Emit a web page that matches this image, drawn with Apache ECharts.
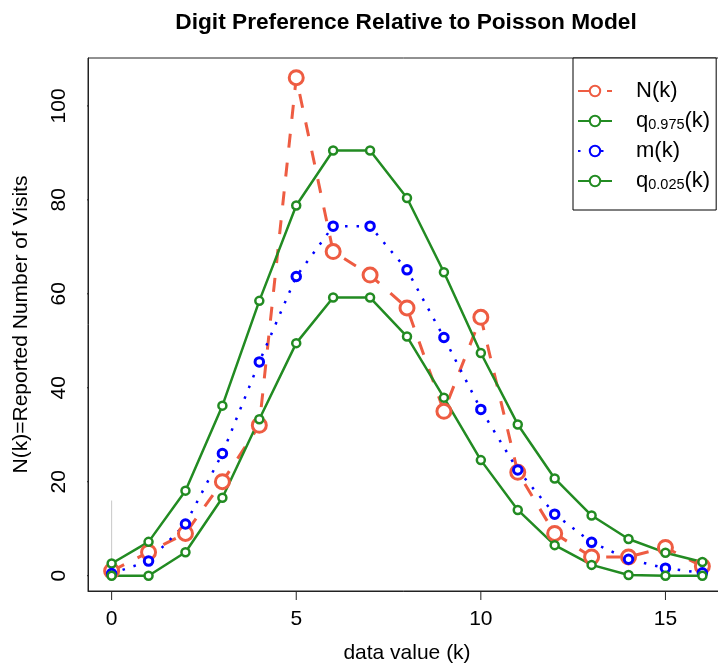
<!DOCTYPE html>
<html>
<head>
<meta charset="utf-8">
<script src="https://cdn.jsdelivr.net/npm/echarts@6/dist/echarts.min.js"></script>
<style>
html,body{margin:0;padding:0;background:#fff;}
#chart{width:718px;height:664px;}
</style>
</head>
<body>
<div id="chart"></div>
<script>
// ---- data ----
const ks = [0,1,2,3,4,5,6,7,8,9,10,11,12,13,14,15,16];
const Nk = [1,5,9,20,32,106,69,64,57,35,55,22,9,4,4,6,2];
const q975 = [2.6,7.2,18.1,36.2,58.5,78.8,90.5,90.5,80.4,64.6,47.4,32.2,20.7,12.8,7.8,4.9,2.9];
const mk = [0.46,3.1,11.0,26.0,45.5,63.7,74.4,74.4,65.1,50.7,35.4,22.5,13.1,7.1,3.5,1.6,0.6];
const q025 = [0,0,5.0,16.6,33.3,49.5,59.2,59.2,50.9,37.9,24.6,14.0,6.5,2.3,0.15,0,0];
const refX = [0,0];
const refY = [0,16];
const xTicks = [0,5,10,15];
const yTicks = [0,20,40,60,80,100];

const X_MIN = -0.64, X_MAX = 16.64, Y_MIN = -3.26, Y_MAX = 110.2;
const GRID = {left:88, top:58, width:638, height:533};
const TICK_PX = 9;
const TICK_DY = TICK_PX * (Y_MAX - Y_MIN) / GRID.height;   // tick length in y units
const TICK_DX = TICK_PX * (X_MAX - X_MIN) / GRID.width;    // tick length in x units
const pairs = (xs, ys) => xs.map((x,i)=>[x, ys[i]]);
const FONT = 'Liberation Sans, Arial, Helvetica, sans-serif';
const RED = '#EE5C42', GREEN = '#228B22', BLUE = '#0000FF';

// tick marks as short line series outside the plot box (clip off)
const tickSeries = [];
xTicks.forEach(v => tickSeries.push({
  type:'line', data:[[v, Y_MIN], [v, Y_MIN - TICK_DY]], symbol:'none', clip:false, silent:true,
  lineStyle:{color:'#222', width:1}, z:10
}));
yTicks.forEach(v => tickSeries.push({
  type:'line', data:[[X_MIN, v], [X_MIN - TICK_DX, v]], symbol:'none', clip:false, silent:true,
  lineStyle:{color:'#222', width:1}, z:10
}));

const chart = echarts.init(document.getElementById('chart'), null, {renderer:'canvas'});
chart.setOption({
  animation:false,
  backgroundColor:'#fff',
  title:{
    text:'Digit Preference Relative to Poisson Model',
    left:401, top:6, textAlign:'center',
    textStyle:{fontFamily:FONT, fontWeight:'bold', fontSize:22.7, color:'#000'}
  },
  grid:{left:GRID.left, top:GRID.top, width:GRID.width, height:GRID.height, show:true,
        borderColor:'#222', borderWidth:1,
        backgroundColor:'transparent', containLabel:false, outerBoundsMode:'none'},
  legend:{
    orient:'vertical', left:573, top:58,
    padding:[22,6,18,4], itemGap:8, itemWidth:34, itemHeight:13,
    borderColor:'#000', borderWidth:1, backgroundColor:'#fff',
    data:['N(k)','q975','m(k)','q025'],
    formatter: function(name){
      if(name==='q975') return '{n|q}{s|0.975}{n|(k)}';
      if(name==='q025') return '{n|q}{s|0.025}{n|(k)}';
      return '{n|'+name+'}';
    },
    textStyle:{
      fontFamily:FONT, fontSize:22, color:'#000', padding:[0,0,0,19],
      rich:{
        n:{fontFamily:FONT, fontSize:22, color:'#000', lineHeight:22},
        s:{fontFamily:FONT, fontSize:14.5, color:'#000', lineHeight:10, verticalAlign:'bottom'}
      }
    }
  },
  xAxis:{
    type:'value', min:X_MIN, max:X_MAX,
    splitLine:{show:false},
    axisLine:{show:true, onZero:false, lineStyle:{color:'#222', width:1}},
    axisTick:{show:false},
    axisLabel:{customValues:xTicks, fontFamily:FONT, fontSize:21, color:'#000', margin:18},
    name:'data value (k)', nameLocation:'middle', nameGap:52,
    nameTextStyle:{fontFamily:FONT, fontSize:21, color:'#000'}
  },
  yAxis:{
    type:'value', min:Y_MIN, max:Y_MAX,
    splitLine:{show:false},
    axisLine:{show:true, onZero:false, lineStyle:{color:'#222', width:1}},
    axisTick:{show:false},
    axisLabel:{customValues:yTicks, rotate:90, fontFamily:FONT, fontSize:21, color:'#000', margin:18},
    name:'N(k)=Reported Number of Visits', nameLocation:'middle', nameGap:56,
    nameTextStyle:{fontFamily:FONT, fontSize:21, color:'#000'}
  },
  series:tickSeries.concat([
    {
      name:'ref', type:'line', data:pairs(refX, refY), symbol:'none', silent:true,
      lineStyle:{color:'#c8c8c8', width:1}, z:1
    },
    {
      name:'N(k)', type:'line', data:pairs(ks, Nk),
      symbol:'circle', symbolSize:14,
      itemStyle:{color:'#fff', borderColor:RED, borderWidth:3},
      lineStyle:{color:RED, width:3, type:[14,15]}
    },
    {
      name:'q975', type:'line', data:pairs(ks, q975),
      symbol:'circle', symbolSize:8,
      itemStyle:{color:'#fff', borderColor:GREEN, borderWidth:2.5},
      lineStyle:{color:GREEN, width:2.5}
    },
    {
      name:'m(k)', type:'line', data:pairs(ks, mk),
      symbol:'circle', symbolSize:8.5,
      itemStyle:{color:'#fff', borderColor:BLUE, borderWidth:3},
      lineStyle:{color:BLUE, width:2.5, type:[2.5,9]}
    },
    {
      name:'q025', type:'line', data:pairs(ks, q025),
      symbol:'circle', symbolSize:8,
      itemStyle:{color:'#fff', borderColor:GREEN, borderWidth:2.5},
      lineStyle:{color:GREEN, width:2.5}
    }
  ])
});
</script>
</body>
</html>
